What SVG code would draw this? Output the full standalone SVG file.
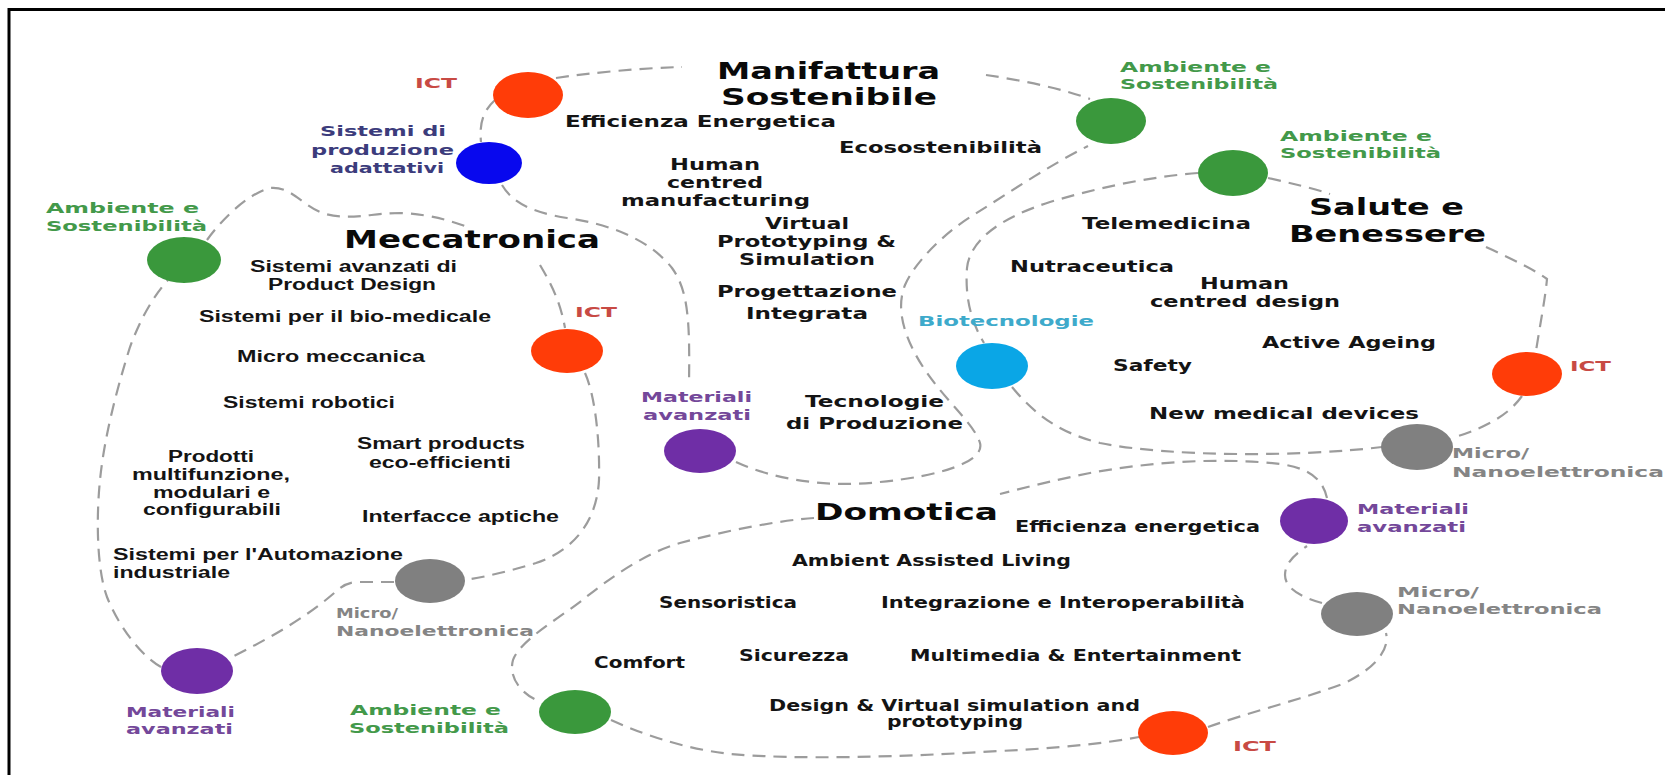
<svg xmlns="http://www.w3.org/2000/svg" width="1665" height="775" viewBox="0 0 1665 775">
<style>
.c{fill:none;stroke:#9c9c9c;stroke-width:2.2;stroke-dasharray:13 8}
.b{font-family:"DejaVu Sans",Verdana,sans-serif;font-weight:bold;font-size:15px;fill:#141414}
.m{font-family:"Liberation Sans",Arial,sans-serif;font-weight:bold;font-size:16px;fill:#141414}
.h{font-family:"DejaVu Sans",Verdana,sans-serif;font-weight:bold;font-size:23px;fill:#0a0a0a}
.l{font-family:"DejaVu Sans",Verdana,sans-serif;font-weight:bold;font-size:14px}
.ict{fill:#ff3c08}.grn{fill:#3a983c}.blu{fill:#0808ee}.pur{fill:#6f2ea6}.gry{fill:#808080}.cya{fill:#0aa6e6}
.ictl{fill:#c84a44}.grnl{fill:#43994a}.blul{fill:#3c3c7c}.purl{fill:#74489a}.gryl{fill:#858585}.cyal{fill:#3eaacb}
</style>
<rect width="1665" height="775" fill="#fff"/>
<path d="M9,775 V9.5 H1665" fill="none" stroke="#000" stroke-width="3"/>

<g id="connectors">
<path class="c" d="M556,78 C590,73 640,68 682,67"/>
<path class="c" d="M986,75 C1020,80 1060,88 1090,99"/>
<path class="c" d="M495,100 C484,110 479,122 481,142"/>
<path class="c" d="M502,185 C512,202 530,212 567,218 C610,224 650,240 672,268 C688,290 690,320 689,383"/>
<path class="c" d="M736,462 C775,480 830,488 880,482 C940,476 985,462 980,443 C975,425 945,400 925,370 C905,340 895,310 905,285 C915,262 945,232 975,214 C1010,192 1050,165 1088,146"/>
<path class="c" d="M1198,173 C1160,176 1110,184 1050,202 C1000,218 970,240 967,268 C965,295 970,320 984,343"/>
<path class="c" d="M1012,387 C1035,415 1060,433 1100,443 C1170,457 1300,457 1382,447"/>
<path class="c" d="M1268,178 C1290,183 1312,188 1330,194"/>
<path class="c" d="M1486,247 C1510,258 1535,270 1547,279 C1545,300 1540,325 1536,351"/>
<path class="c" d="M1522,396 C1512,410 1495,425 1452,438"/>
<path class="c" d="M814,518 C780,520 720,532 680,543 C645,553 610,578 585,598 C560,618 520,640 513,660 C508,678 522,695 541,702"/>
<path class="c" d="M611,720 C640,733 680,748 730,754 C800,760 900,757 1000,751 C1060,748 1100,744 1139,737"/>
<path class="c" d="M1208,727 C1250,712 1300,700 1345,683 C1375,668 1390,650 1386,633"/>
<path class="c" d="M1322,603 C1300,597 1285,588 1285,575 C1285,562 1297,553 1307,546"/>
<path class="c" d="M1327,498 C1323,480 1310,468 1280,464 C1220,457 1150,462 1090,473 C1050,481 1020,489 1000,494"/>
<path class="c" d="M207,240 C220,222 245,195 270,188 C290,186 300,203 320,212 C345,222 370,213 400,213 C430,214 455,222 470,228"/>
<path class="c" d="M540,265 C550,282 560,300 565,328"/>
<path class="c" d="M585,373 C595,395 600,440 599,480 C597,520 575,550 536,563 C510,571 485,577 465,580"/>
<path class="c" d="M394,582 L356,582 C345,583 340,588 333,594 C305,618 270,638 232,657"/>
<path class="c" d="M161,667 C140,655 118,625 107,597 C97,570 96,520 100,480 C104,440 115,395 130,347 C140,320 152,298 168,280"/>
</g>

<g id="manifattura">
<text class="h" x="717" y="79" textLength="223" lengthAdjust="spacingAndGlyphs">Manifattura</text>
<text class="h" x="721" y="105" textLength="216" lengthAdjust="spacingAndGlyphs">Sostenibile</text>
<text class="b" x="565" y="127" textLength="271" lengthAdjust="spacingAndGlyphs">Efficienza Energetica</text>
<text class="b" x="839" y="153" textLength="203" lengthAdjust="spacingAndGlyphs">Ecosostenibilità</text>
<text class="b" x="670" y="170" textLength="90" lengthAdjust="spacingAndGlyphs">Human</text>
<text class="b" x="667" y="188" textLength="96" lengthAdjust="spacingAndGlyphs">centred</text>
<text class="b" x="621" y="206" textLength="189" lengthAdjust="spacingAndGlyphs">manufacturing</text>
<text class="b" x="765" y="229" textLength="84" lengthAdjust="spacingAndGlyphs">Virtual</text>
<text class="b" x="717" y="247" textLength="179" lengthAdjust="spacingAndGlyphs">Prototyping &amp;</text>
<text class="b" x="739" y="265" textLength="136" lengthAdjust="spacingAndGlyphs">Simulation</text>
<text class="b" x="717" y="297" textLength="180" lengthAdjust="spacingAndGlyphs">Progettazione</text>
<text class="b" x="746" y="319" textLength="122" lengthAdjust="spacingAndGlyphs">Integrata</text>
<text class="b" x="805" y="407" textLength="139" lengthAdjust="spacingAndGlyphs">Tecnologie</text>
<text class="b" x="786" y="429" textLength="177" lengthAdjust="spacingAndGlyphs">di Produzione</text>
</g>

<g id="meccatronica">
<text class="h" x="344" y="248" style="font-size:25px" textLength="256" lengthAdjust="spacingAndGlyphs">Meccatronica</text>
<text class="m" x="250" y="272" textLength="207" lengthAdjust="spacingAndGlyphs">Sistemi avanzati di</text>
<text class="m" x="268" y="290" textLength="168" lengthAdjust="spacingAndGlyphs">Product Design</text>
<text class="m" x="199" y="322" textLength="292" lengthAdjust="spacingAndGlyphs">Sistemi per il bio-medicale</text>
<text class="m" x="237" y="362" textLength="188" lengthAdjust="spacingAndGlyphs">Micro meccanica</text>
<text class="m" x="223" y="408" textLength="172" lengthAdjust="spacingAndGlyphs">Sistemi robotici</text>
<text class="m" x="357" y="449" textLength="168" lengthAdjust="spacingAndGlyphs">Smart products</text>
<text class="m" x="369" y="468" textLength="142" lengthAdjust="spacingAndGlyphs">eco-efficienti</text>
<text class="m" x="168" y="462" textLength="86" lengthAdjust="spacingAndGlyphs">Prodotti</text>
<text class="m" x="132" y="480" textLength="158" lengthAdjust="spacingAndGlyphs">multifunzione,</text>
<text class="m" x="153" y="498" textLength="117" lengthAdjust="spacingAndGlyphs">modulari e</text>
<text class="m" x="143" y="515" textLength="138" lengthAdjust="spacingAndGlyphs">configurabili</text>
<text class="m" x="362" y="522" textLength="197" lengthAdjust="spacingAndGlyphs">Interfacce aptiche</text>
<text class="m" x="113" y="560" textLength="290" lengthAdjust="spacingAndGlyphs">Sistemi per l'Automazione</text>
<text class="m" x="113" y="578" textLength="117" lengthAdjust="spacingAndGlyphs">industriale</text>
</g>

<g id="salute">
<text class="h" x="1309" y="215" textLength="155" lengthAdjust="spacingAndGlyphs">Salute e</text>
<text class="h" x="1289" y="242" textLength="197" lengthAdjust="spacingAndGlyphs">Benessere</text>
<text class="b" x="1082" y="229" textLength="169" lengthAdjust="spacingAndGlyphs">Telemedicina</text>
<text class="b" x="1010" y="272" textLength="164" lengthAdjust="spacingAndGlyphs">Nutraceutica</text>
<text class="b" x="1200" y="289" textLength="89" lengthAdjust="spacingAndGlyphs">Human</text>
<text class="b" x="1150" y="307" textLength="190" lengthAdjust="spacingAndGlyphs">centred design</text>
<text class="b" x="1262" y="348" textLength="174" lengthAdjust="spacingAndGlyphs">Active Ageing</text>
<text class="b" x="1113" y="371" textLength="79" lengthAdjust="spacingAndGlyphs">Safety</text>
<text class="b" x="1149" y="419" textLength="270" lengthAdjust="spacingAndGlyphs">New medical devices</text>
</g>

<g id="domotica">
<text class="h" x="815" y="520" textLength="183" lengthAdjust="spacingAndGlyphs">Domotica</text>
<text class="b" x="1015" y="532" textLength="245" lengthAdjust="spacingAndGlyphs">Efficienza energetica</text>
<text class="b" x="792" y="566" textLength="279" lengthAdjust="spacingAndGlyphs">Ambient Assisted Living</text>
<text class="b" x="659" y="608" textLength="138" lengthAdjust="spacingAndGlyphs">Sensoristica</text>
<text class="b" x="881" y="608" textLength="364" lengthAdjust="spacingAndGlyphs">Integrazione e Interoperabilità</text>
<text class="b" x="739" y="661" textLength="110" lengthAdjust="spacingAndGlyphs">Sicurezza</text>
<text class="b" x="910" y="661" textLength="331" lengthAdjust="spacingAndGlyphs">Multimedia &amp; Entertainment</text>
<text class="b" x="594" y="668" textLength="91" lengthAdjust="spacingAndGlyphs">Comfort</text>
<text class="b" x="769" y="711" textLength="371" lengthAdjust="spacingAndGlyphs">Design &amp; Virtual simulation and</text>
<text class="b" x="887" y="727" textLength="136" lengthAdjust="spacingAndGlyphs">prototyping</text>
</g>

<g id="ict-manifattura">
<ellipse class="ict" cx="528" cy="95" rx="35" ry="23"/>
<text class="l ictl" x="415" y="88" textLength="42" lengthAdjust="spacingAndGlyphs">ICT</text>
</g>
<g id="sistemi-produzione">
<ellipse class="blu" cx="489" cy="163" rx="33" ry="21"/>
<text class="l blul" x="320" y="136" textLength="126" lengthAdjust="spacingAndGlyphs">Sistemi di</text>
<text class="l blul" x="311" y="155" textLength="143" lengthAdjust="spacingAndGlyphs">produzione</text>
<text class="l blul" x="330" y="173" textLength="114" lengthAdjust="spacingAndGlyphs">adattativi</text>
</g>
<g id="ambiente-manifattura">
<ellipse class="grn" cx="1111" cy="121" rx="35" ry="23"/>
<text class="l grnl" x="1120" y="72" textLength="151" lengthAdjust="spacingAndGlyphs">Ambiente e</text>
<text class="l grnl" x="1120" y="89" textLength="158" lengthAdjust="spacingAndGlyphs">Sostenibilità</text>
</g>
<g id="ambiente-salute">
<ellipse class="grn" cx="1233" cy="173" rx="35" ry="23"/>
<text class="l grnl" x="1280" y="141" textLength="152" lengthAdjust="spacingAndGlyphs">Ambiente e</text>
<text class="l grnl" x="1280" y="158" textLength="161" lengthAdjust="spacingAndGlyphs">Sostenibilità</text>
</g>
<g id="ambiente-meccatronica">
<ellipse class="grn" cx="184" cy="260" rx="37" ry="23"/>
<text class="l grnl" x="46" y="213" textLength="153" lengthAdjust="spacingAndGlyphs">Ambiente e</text>
<text class="l grnl" x="46" y="231" textLength="161" lengthAdjust="spacingAndGlyphs">Sostenibilità</text>
</g>
<g id="ict-meccatronica">
<ellipse class="ict" cx="567" cy="351" rx="36" ry="22"/>
<text class="l ictl" x="575" y="317" textLength="42" lengthAdjust="spacingAndGlyphs">ICT</text>
</g>
<g id="materiali-manifattura">
<ellipse class="pur" cx="700" cy="451" rx="36" ry="22"/>
<text class="l purl" x="641" y="402" textLength="111" lengthAdjust="spacingAndGlyphs">Materiali</text>
<text class="l purl" x="643" y="420" textLength="108" lengthAdjust="spacingAndGlyphs">avanzati</text>
</g>
<g id="biotecnologie">
<ellipse class="cya" cx="992" cy="366" rx="36" ry="23"/>
<text class="l cyal" x="918" y="326" textLength="176" lengthAdjust="spacingAndGlyphs">Biotecnologie</text>
</g>
<g id="ict-salute">
<ellipse class="ict" cx="1527" cy="374" rx="35" ry="22"/>
<text class="l ictl" x="1570" y="371" textLength="41" lengthAdjust="spacingAndGlyphs">ICT</text>
</g>
<g id="micro-salute">
<ellipse class="gry" cx="1417" cy="447" rx="36" ry="23"/>
<text class="l gryl" x="1452" y="458" textLength="77" lengthAdjust="spacingAndGlyphs">Micro/</text>
<text class="l gryl" x="1452" y="477" textLength="212" lengthAdjust="spacingAndGlyphs">Nanoelettronica</text>
</g>
<g id="materiali-domotica">
<ellipse class="pur" cx="1314" cy="521" rx="34" ry="23"/>
<text class="l purl" x="1357" y="514" textLength="112" lengthAdjust="spacingAndGlyphs">Materiali</text>
<text class="l purl" x="1357" y="532" textLength="109" lengthAdjust="spacingAndGlyphs">avanzati</text>
</g>
<g id="micro-domotica">
<ellipse class="gry" cx="1357" cy="614" rx="36" ry="22"/>
<text class="l gryl" x="1397" y="597" textLength="82" lengthAdjust="spacingAndGlyphs">Micro/</text>
<text class="l gryl" x="1397" y="614" textLength="205" lengthAdjust="spacingAndGlyphs">Nanoelettronica</text>
</g>
<g id="ict-domotica">
<ellipse class="ict" cx="1173" cy="733" rx="35" ry="22"/>
<text class="l ictl" x="1233" y="751" textLength="43" lengthAdjust="spacingAndGlyphs">ICT</text>
</g>
<g id="ambiente-domotica">
<ellipse class="grn" cx="575" cy="712" rx="36" ry="22"/>
<text class="l grnl" x="350" y="715" textLength="151" lengthAdjust="spacingAndGlyphs">Ambiente e</text>
<text class="l grnl" x="349" y="733" textLength="160" lengthAdjust="spacingAndGlyphs">Sostenibilità</text>
</g>
<g id="micro-meccatronica">
<ellipse class="gry" cx="430" cy="581" rx="35" ry="22"/>
<text class="l gryl" x="336" y="618" textLength="62" lengthAdjust="spacingAndGlyphs">Micro/</text>
<text class="l gryl" x="336" y="636" textLength="198" lengthAdjust="spacingAndGlyphs">Nanoelettronica</text>
</g>
<g id="materiali-meccatronica">
<ellipse class="pur" cx="197" cy="671" rx="36" ry="23"/>
<text class="l purl" x="126" y="717" textLength="109" lengthAdjust="spacingAndGlyphs">Materiali</text>
<text class="l purl" x="126" y="734" textLength="107" lengthAdjust="spacingAndGlyphs">avanzati</text>
</g>
</svg>
